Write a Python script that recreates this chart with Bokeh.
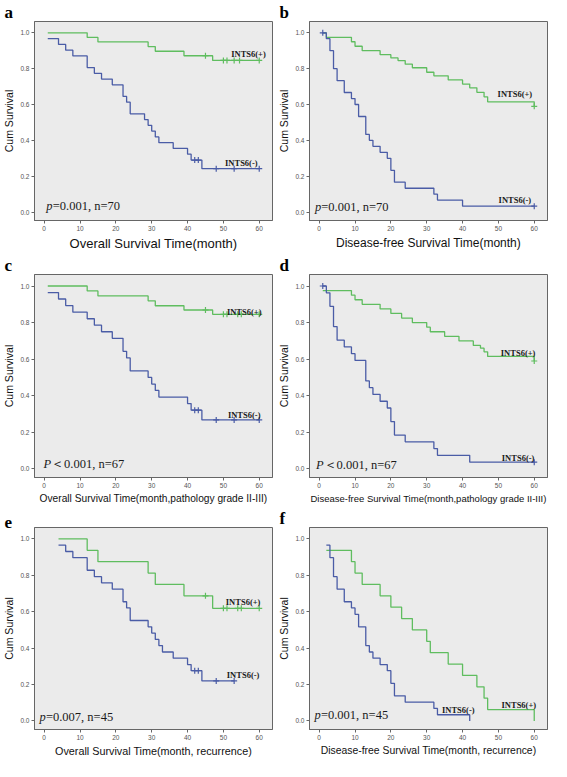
from bokeh.plotting import figure
from bokeh.layouts import gridplot
from bokeh.models import FixedTicker, Range1d, PrintfTickFormatter
from bokeh.core.properties import value
from bokeh.embed import file_html
from bokeh.resources import INLINE

# ---------------- data ----------------
# panel a: overall survival, n=70
a_pos_t = [1, 12, 15, 29, 31, 39, 47, 60]
a_pos_s = [1.0, 0.974, 0.949, 0.923, 0.897, 0.872, 0.846, 0.846]
a_pos_cens = [45, 50, 51, 53, 54.5, 60]
a_neg_t = [1, 4, 6, 8, 12, 14, 16, 19, 22, 23, 24, 28, 29, 30, 31, 32, 36, 40, 41, 44, 60]
a_neg_s = [0.968, 0.935, 0.903, 0.871, 0.806, 0.774, 0.742, 0.710, 0.645, 0.613, 0.548,
           0.516, 0.484, 0.452, 0.419, 0.387, 0.355, 0.323, 0.290, 0.242, 0.242]
a_neg_cens = [42, 43, 48, 53, 60]

# panel b: disease-free survival, n=70
b_pos_t = [1, 2, 9, 10, 12, 17, 20, 22, 24, 26, 30, 32, 36, 40, 42, 44, 46, 47, 60]
b_pos_s = [1.0, 0.975, 0.95, 0.925, 0.9, 0.878, 0.86, 0.845, 0.825, 0.805, 0.78, 0.76,
           0.737, 0.714, 0.693, 0.668, 0.643, 0.615, 0.59]
b_pos_cens = [60]
b_neg_t = [1, 2, 3, 4, 5, 7, 9, 10, 11, 13, 14, 15, 17, 19, 20, 21, 24, 32, 33, 40, 60]
b_neg_s = [1.0, 0.967, 0.9, 0.8, 0.733, 0.667, 0.633, 0.6, 0.533, 0.433, 0.4, 0.367, 0.333,
           0.3, 0.233, 0.167, 0.133, 0.1, 0.067, 0.033, 0.033]
b_neg_cens = [1, 60]

# panel c: overall survival, pathology grade II-III, n=67
c_pos_t = [1, 12, 15, 29, 31, 39, 47, 60]
c_pos_s = [1.0, 0.973, 0.946, 0.919, 0.892, 0.869, 0.845, 0.845]
c_pos_cens = [45, 50, 51, 54, 55, 60]
c_neg_t = [1, 4, 6, 8, 12, 14, 16, 19, 22, 23, 24, 29, 30, 31, 32, 40, 41, 44, 60]
c_neg_s = [0.964, 0.929, 0.893, 0.857, 0.821, 0.786, 0.75, 0.714, 0.643, 0.607, 0.536,
           0.5, 0.464, 0.429, 0.393, 0.357, 0.321, 0.268, 0.268]
c_neg_cens = [42, 43, 48, 53, 60]

# panel d: disease-free survival, pathology grade II-III, n=67
d_pos_t = [1, 9, 10, 12, 17, 20, 23, 26, 30, 31, 35, 39, 43, 45, 46, 47, 60]
d_pos_s = [0.975, 0.95, 0.925, 0.9, 0.875, 0.85, 0.825, 0.8, 0.775, 0.75, 0.725, 0.7,
           0.675, 0.66, 0.64, 0.615, 0.59]
d_pos_cens = [60]
d_neg_t = [1, 2, 3, 4, 5, 7, 9, 10, 13, 14, 15, 17, 19, 20, 21, 24, 32, 33, 42, 60]
d_neg_s = [1.0, 0.963, 0.889, 0.778, 0.704, 0.667, 0.630, 0.593, 0.481, 0.444, 0.407,
           0.370, 0.333, 0.259, 0.185, 0.148, 0.111, 0.074, 0.037, 0.037]
d_neg_cens = [1, 60]

# panel e: overall survival, recurrence, n=45
e_pos_t = [4, 12, 15, 29, 31, 39, 47, 60]
e_pos_s = [1.0, 0.9375, 0.875, 0.8125, 0.75, 0.6875, 0.619, 0.619]
e_pos_cens = [45, 50, 51, 54, 55, 60]
e_neg_t = [4, 6, 8, 12, 14, 16, 19, 22, 23, 24, 29, 30, 31, 32, 33, 36, 40, 41, 44, 53]
e_neg_s = [0.966, 0.931, 0.897, 0.828, 0.793, 0.759, 0.724, 0.655, 0.621, 0.552, 0.517,
           0.483, 0.448, 0.414, 0.379, 0.345, 0.310, 0.276, 0.22, 0.22]
e_neg_cens = [42, 43, 48, 53]

# panel f: disease-free survival, recurrence, n=45
f_pos_t = [2, 9, 10, 12, 17, 20, 23, 26, 30, 31, 36, 40, 44, 46, 47, 60]
f_pos_s = [0.9375, 0.875, 0.8125, 0.75, 0.6875, 0.625, 0.5625, 0.5, 0.4375, 0.375,
           0.3125, 0.25, 0.1875, 0.125, 0.0625, 0.0]
f_pos_cens = []
f_neg_t = [2, 3, 4, 5, 7, 9, 10, 11, 13, 14, 15, 17, 19, 20, 21, 24, 32, 33, 42]
f_neg_s = [0.966, 0.897, 0.793, 0.724, 0.655, 0.621, 0.586, 0.517, 0.414, 0.379, 0.345,
           0.310, 0.276, 0.207, 0.138, 0.103, 0.069, 0.034, 0.0]
f_neg_cens = []

x_ticks = [0, 10, 20, 30, 40, 50, 60]
y_ticks = [0.0, 0.2, 0.4, 0.6, 0.8, 1.0]

letters = ["a", "b", "c", "d", "e", "f"]
x_titles = ["Overall Survival Time(month)",
            "Disease-free Survival Time(month)",
            "Overall Survival Time(month,pathology grade II-III)",
            "Disease-free Survival Time(month,pathology grade II-III)",
            "Overall Survival Time(month, recurrence)",
            "Disease-free Survival Time(month, recurrence)"]
p_symbols = ["p", "p", "P", "P", "p", "p"]
stat_texts = ["=0.001, n=70", "=0.001, n=70", "＜0.001, n=67", "＜0.001, n=67",
              "=0.007, n=45", "=0.001, n=45"]
y_title = "Cum Survival"
pos_name = "INTS6(+)"
neg_name = "INTS6(-)"

# ---------------- styling / layout ----------------
GREEN = "#5fbd5f"
BLUE = "#4a5ca6"
BG = "#ebebeb"
FRAME = "#666666"

layout_cfg = {
    "a": dict(xs="13px", pos_at=(57, 0.88), neg_at=(55, 0.275), p_at=(0.6, 0.033)),
    "b": dict(xs="12px", pos_at=(54.6, 0.66), neg_at=(54.6, 0.065), p_at=(-1.2, 0.03)),
    "c": dict(xs="10.2px", pos_at=(55.8, 0.856), neg_at=(55.8, 0.295), p_at=(-0.2, 0.027)),
    "d": dict(xs="9.5px", pos_at=(55.5, 0.632), neg_at=(55.5, 0.057), p_at=(-0.9, 0.02)),
    "e": dict(xs="10.8px", pos_at=(55.5, 0.653), neg_at=(55.5, 0.253), p_at=(-1.3, 0.023)),
    "f": dict(xs="10.4px", pos_at=(55.7, 0.089), neg_at=(38.8, 0.062), p_at=(-1.3, 0.03)),
}

curves = {
    "a": (a_pos_t, a_pos_s, a_pos_cens, a_neg_t, a_neg_s, a_neg_cens),
    "b": (b_pos_t, b_pos_s, b_pos_cens, b_neg_t, b_neg_s, b_neg_cens),
    "c": (c_pos_t, c_pos_s, c_pos_cens, c_neg_t, c_neg_s, c_neg_cens),
    "d": (d_pos_t, d_pos_s, d_pos_cens, d_neg_t, d_neg_s, d_neg_cens),
    "e": (e_pos_t, e_pos_s, e_pos_cens, e_neg_t, e_neg_s, e_neg_cens),
    "f": (f_pos_t, f_pos_s, f_pos_cens, f_neg_t, f_neg_s, f_neg_cens),
}


def surv_at(ts, ss, c):
    y = ss[0]
    for t, s in zip(ts, ss):
        if t <= c:
            y = s
    return y


def make_panel(i):
    letter = letters[i]
    cfg = layout_cfg[letter]
    pt, ps, pc, nt, ns, nc = curves[letter]
    p = figure(width=275, height=253,
               x_range=Range1d(-2.7, 63.7), y_range=Range1d(-0.047, 1.063),
               output_backend="svg", toolbar_location=None,
               min_border_left=33, min_border_right=3, min_border_top=0,
               min_border_bottom=0)
    p.background_fill_color = BG
    p.border_fill_color = "white"
    p.outline_line_color = FRAME
    p.outline_line_width = 1
    p.xgrid.visible = False
    p.ygrid.visible = False

    p.title.text = letter
    p.title.text_font = "Liberation Serif"
    p.title.text_font_size = "17px"
    p.title.text_font_style = "bold"
    p.title.text_color = "black"
    p.title.align = "left"
    p.title.offset = -30
    p.title.standoff = 0

    for ax in (p.xaxis[0], p.yaxis[0]):
        ax.axis_line_color = FRAME
        ax.major_tick_line_color = FRAME
        ax.major_tick_out = 3
        ax.major_tick_in = 0
        ax.minor_tick_line_color = None
        ax.major_label_text_font = "Liberation Sans"
        ax.major_label_text_font_size = "6.5px"
        ax.major_label_text_color = "#555555"
        ax.major_label_standoff = 2
        ax.axis_label_text_font = "Liberation Sans"
        ax.axis_label_text_font_style = "normal"
        ax.axis_label_text_color = "#111111"
        ax.axis_label_standoff = 2

    p.xaxis.ticker = FixedTicker(ticks=x_ticks)
    p.yaxis.ticker = FixedTicker(ticks=y_ticks)
    p.yaxis.formatter = PrintfTickFormatter(format="%.1f")
    p.xaxis.axis_label = x_titles[i]
    p.xaxis.axis_label_text_font_size = cfg["xs"]
    p.yaxis.axis_label = y_title
    p.yaxis.axis_label_text_font_size = "10.5px"

    # curves
    p.step(x=pt, y=ps, mode="after", line_color=GREEN, line_width=1.3)
    p.step(x=nt, y=ns, mode="after", line_color=BLUE, line_width=1.3)
    if pc:
        p.scatter(x=pc, y=[surv_at(pt, ps, c) for c in pc], marker="cross",
                  size=6, line_color=GREEN, line_width=1.2)
    if nc:
        p.scatter(x=nc, y=[surv_at(nt, ns, c) for c in nc], marker="cross",
                  size=6, line_color=BLUE, line_width=1.2)

    # group labels
    for name, (lx, ly) in ((pos_name, cfg["pos_at"]), (neg_name, cfg["neg_at"])):
        p.text(x=[lx], y=[ly], text=[name], text_font=value("Liberation Serif"),
               text_font_style="bold", text_font_size="8.5px", text_align="center",
               text_baseline="middle", text_color="#1a1a1a")

    # statistics
    px, py = cfg["p_at"]
    p.text(x=[px], y=[py], text=[p_symbols[i]], text_font=value("Liberation Serif"),
           text_font_style="italic", text_font_size="12.5px", text_align="left",
           text_baseline="middle", text_color="#1a1a1a")
    off = 7.6 if p_symbols[i] == "P" else 6.4
    p.text(x=[px], y=[py], text=[stat_texts[i]], text_font=value("Liberation Serif"),
           text_font_size="12.5px", text_align="left", x_offset=off,
           text_baseline="middle", text_color="#1a1a1a")
    return p


panels = [make_panel(i) for i in range(6)]
grid = gridplot([[panels[0], panels[1]], [panels[2], panels[3]], [panels[4], panels[5]]],
                toolbar_location=None)

with open("out.html", "w") as fh:
    fh.write(file_html(grid, INLINE))
